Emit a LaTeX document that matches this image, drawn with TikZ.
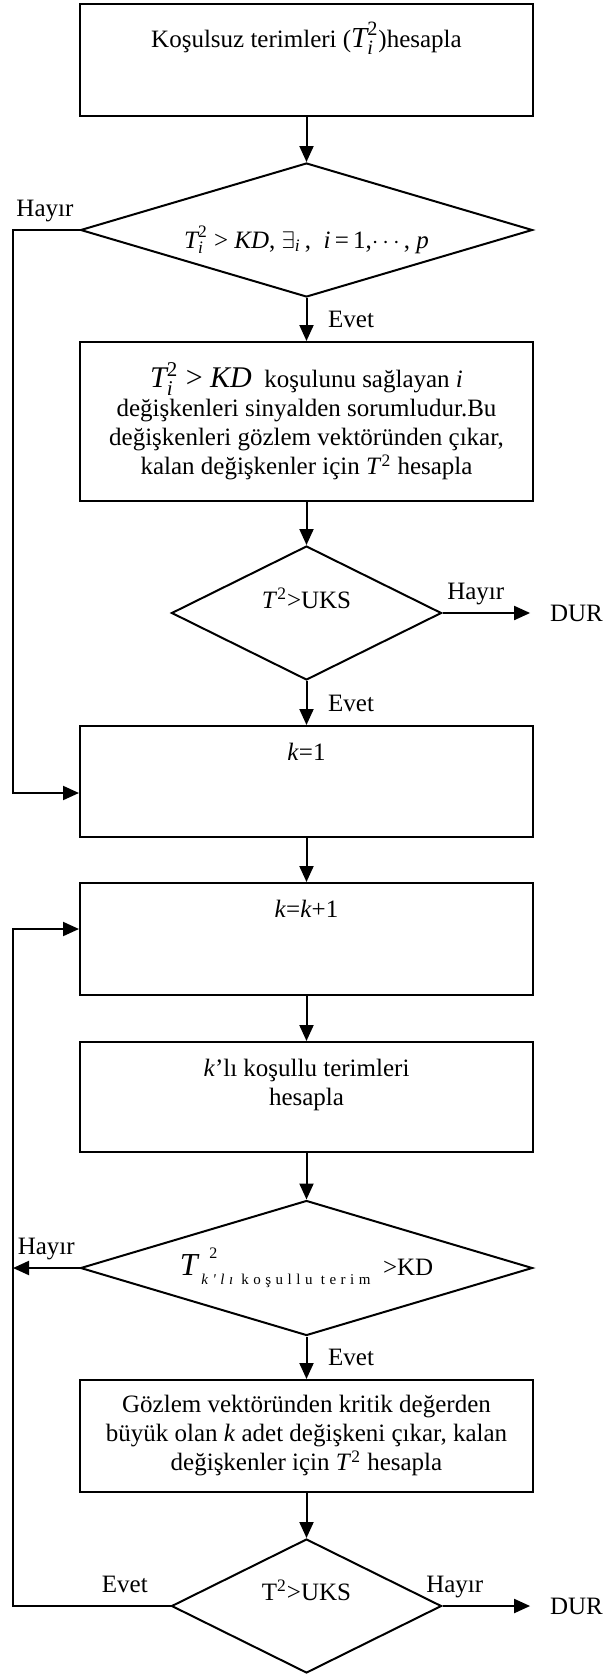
\documentclass[tikz,border=0pt]{standalone}
\usepackage{amsmath}
\usepackage{fontspec}
\setmainfont{Liberation Serif}
\newfontfamily\seyrekfont[LetterSpace=30]{Liberation Serif}
\usepackage{tikz}
\usetikzlibrary{shapes.geometric}
\usetikzlibrary{arrows.meta}

\newcommand{\Tik}{$\text{\itshape T}^{\text{2}}_{\text{\itshape i}}$}

\begin{document}
\begin{tikzpicture}[x=0.5pt, y=-0.5pt, line width=1pt,
    font=\fontsize{12.5}{14.5}\selectfont,
    kutu/.style={draw, rectangle, minimum width=226.5pt, inner sep=0pt},
    karar/.style={draw, diamond, inner sep=0pt},
    ok/.style={-{Triangle[length=8pt,width=7pt]}},
    etiket/.style={above, text depth=2.7pt},
    dur/.style={inner xsep=9.5pt}]
  \useasboundingbox (0,0) rectangle (605,1676);

  % Kutular ve kararlar
  \node[kutu, text height=21.5pt, text depth=34.5pt] (kosulsuz) at (306.5,60)
    {Koşulsuz terimleri ({\fontsize{14.5}{14.5}\selectfont\Tik})hesapla};
  \node[karar, minimum width=226pt, minimum height=67pt, aspect=3.4,
        text height=20pt, text depth=2pt] (sinyalvar) at (306.5,230)
    {\Tik\ >\ \textit{KD},\ $\exists_{\text{\itshape i}}$\,,\ \ \textit{i}\,=\,1,$\cdots$,\ \textit{p}};
  \node[kutu, align=center, minimum height=79.5pt] (sinyal) at (306.5,421.5)
    {{\fontsize{15}{18}\selectfont\Tik\ > \textit{KD}}\ \ koşulunu sağlayan \textit{i}\\
     değişkenleri sinyalden sorumludur.Bu\\
     değişkenleri gözlem vektöründen çıkar,\\
     kalan değişkenler için \textit{T}\textsuperscript{2} hesapla};
  \node[karar, minimum width=135pt, minimum height=67pt, aspect=2,
        text height=9pt, text depth=14pt] (uks1) at (306.5,613)
    {\textit{T}\textsuperscript{2}>UKS};
  \node[dur] (dur1) at (576.5,613) {DUR};
  \node[kutu, text height=17pt, text depth=38.5pt] (kbir) at (306.5,781.5) {\textit{k}=1};
  \node[kutu, text height=17pt, text depth=39pt] (kk1) at (306.5,939) {\textit{k}=\textit{k}+1};
  \node[kutu, align=center, minimum height=55pt] (kosullu) at (306.5,1097)
    {\textit{k}'lı koşullu terimleri\\ hesapla\\ \mbox{}};
  \node[karar, minimum width=226pt, minimum height=67.5pt, aspect=3.4] (kosullu2) at (306.5,1268)
    {{\fontsize{16}{16}\selectfont\itshape T\/}\hspace{1pt}\rlap{\hspace{4pt}\raisebox{8.5pt}{\fontsize{8}{8}\selectfont 2}}%
     \raisebox{-4.5pt}{\seyrekfont\fontsize{7.5}{8}\selectfont\itshape k'lı\upshape\ koşullu terim}\ \ >KD};
  \node[kutu, align=center, minimum height=56pt] (cikar) at (306.5,1436)
    {Gözlem vektöründen kritik değerden\\
     büyük olan \textit{k} adet değişkeni çıkar, kalan\\
     değişkenler için \textit{T}\textsuperscript{2} hesapla};
  \node[karar, minimum width=135pt, minimum height=67pt, aspect=2,
        text height=9pt, text depth=15pt] (uks2) at (306.5,1606)
    {T\textsuperscript{2}>UKS};
  \node[dur] (dur2) at (576.5,1606) {DUR};

  \coordinate (geri1) at (13,793);
  \coordinate (geri2) at (13,929);

  % Akis
  \draw[ok] (kosulsuz) -- (sinyalvar);
  \draw[ok] (sinyalvar) -- node[right, xshift=7pt] {Evet} (sinyal);
  \draw[ok] (sinyal) -- (uks1);
  \draw[ok] (uks1) -- node[right, xshift=7pt] {Evet} (kbir);
  \draw[ok] (uks1.east) -- node[etiket, pos=0.38] {Hayır} (dur1.west);
  \draw[ok] (kbir) -- (kk1);
  \draw[ok] (kk1) -- (kosullu);
  \draw[ok] (kosullu) -- (kosullu2);
  \draw[ok] (kosullu2) -- node[right, xshift=7pt] {Evet} (cikar);
  \draw[ok] (cikar) -- (uks2);
  \draw[ok] (uks2.east) -- node[etiket, pos=0.14] {Hayır} (dur2.west);

  % Geri donusler
  \draw[ok] (sinyalvar.west) -| node[etiket, pos=0.26] {Hayır} (geri1) -- (geri1 -| kbir.west);
  \draw[ok] (kosullu2.west) -- node[etiket] {Hayır} (kosullu2.west -| geri2);
  \draw[ok] (uks2.west) -| node[etiket, pos=0.145] {Evet} (geri2) -- (geri2 -| kk1.west);
\end{tikzpicture}
\end{document}
